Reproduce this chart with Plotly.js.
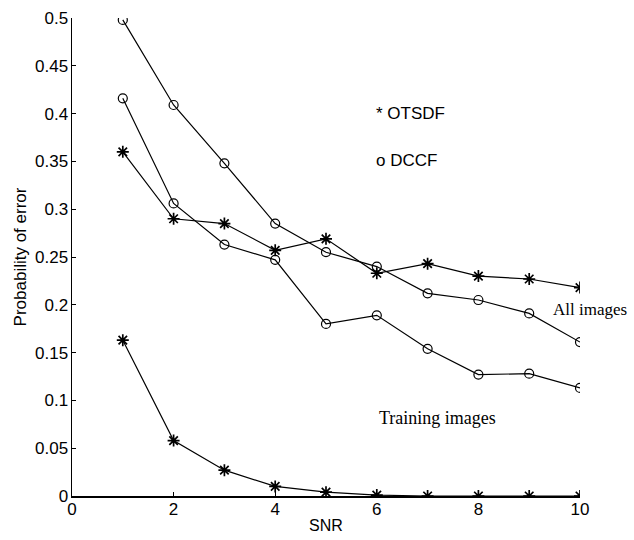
<!DOCTYPE html>
<html>
<head>
<meta charset="utf-8">
<script src="https://cdn.plot.ly/plotly-3.0.1.min.js"></script>
<style>html,body{margin:0;padding:0;background:#fff;}#chart{width:634px;height:540px;}</style>
</head>
<body>
<div id="chart"></div>
<script>
const snr = [1, 2, 3, 4, 5, 6, 7, 8, 9, 10];
const dccfAll = [0.498, 0.409, 0.348, 0.285, 0.255, 0.240, 0.212, 0.205, 0.191, 0.161];
const dccfTrain = [0.416, 0.306, 0.263, 0.247, 0.180, 0.189, 0.154, 0.127, 0.128, 0.113];
const otsdfAll = [0.360, 0.290, 0.285, 0.257, 0.269, 0.233, 0.243, 0.230, 0.227, 0.218];
const otsdfTrain = [0.163, 0.058, 0.027, 0.010, 0.004, 0.001, 0.0, 0.0, 0.0, 0.0];
const xTicks = [0, 2, 4, 6, 8, 10];
const yTicks = [0, 0.05, 0.1, 0.15, 0.2, 0.25, 0.3, 0.35, 0.4, 0.45, 0.5];
const yTickText = ['0', '0.05', '0.1', '0.15', '0.2', '0.25', '0.3', '0.35', '0.4', '0.45', '0.5'];

function series(y, sym) {
  return {
    x: snr, y: y, type: 'scatter', mode: 'lines+markers',
    line: {color: '#000', width: 1.2},
    marker: {symbol: sym, size: sym === 'circle-open' ? 9 : 10, color: '#000',
             line: {color: '#000', width: sym === 'circle-open' ? 1.2 : 1.7}},
    showlegend: false, hoverinfo: 'skip'
  };
}

const data = [
  series(dccfAll, 'circle-open'),
  series(dccfTrain, 'circle-open'),
  series(otsdfAll, 'asterisk-open'),
  series(otsdfTrain, 'asterisk-open')
];

const sans = 'Liberation Sans, Arial, sans-serif';
const serif = 'Liberation Serif, Times New Roman, serif';

const layout = {
  width: 634, height: 540,
  margin: {l: 72, r: 54, t: 18, b: 44},
  paper_bgcolor: '#fff', plot_bgcolor: '#fff',
  font: {family: sans, color: '#000', size: 16},
  xaxis: {
    range: [0, 10], tickvals: xTicks, ticktext: xTicks.map(String),
    ticks: 'inside', ticklen: 4, tickcolor: '#000',
    showline: true, linecolor: '#000', linewidth: 1.5,
    showgrid: false, zeroline: false,
    tickfont: {family: sans, size: 17},
    ticklabelstandoff: -3,
    title: {text: 'SNR', font: {family: sans, size: 16}, standoff: 2}
  },
  yaxis: {
    range: [0, 0.5], tickvals: yTicks, ticktext: yTickText,
    ticks: 'inside', ticklen: 4, tickcolor: '#000',
    showline: true, linecolor: '#000', linewidth: 1.5,
    showgrid: false, zeroline: false,
    tickfont: {family: sans, size: 17},
    ticklabelstandoff: -1,
    title: {text: 'Probability of error', font: {family: sans, size: 17}, standoff: 4}
  },
  annotations: [
    {x: 5.94, y: 0.40, xref: 'x', yref: 'y', text: '* OTSDF', showarrow: false,
     xanchor: 'left', font: {family: sans, size: 17}},
    {x: 5.94, y: 0.351, xref: 'x', yref: 'y', text: 'o DCCF', showarrow: false,
     xanchor: 'left', font: {family: sans, size: 17}},
    {x: 9.42, y: 0.195, xref: 'x', yref: 'y', text: 'All images', showarrow: false,
     xanchor: 'left', font: {family: serif, size: 17}},
    {x: 7.2, y: 0.082, xref: 'x', yref: 'y', text: 'Training images', showarrow: false,
     xanchor: 'center', font: {family: serif, size: 18}}
  ]
};

Plotly.newPlot('chart', data, layout, {staticPlot: true, displayModeBar: false});
</script>
</body>
</html>
